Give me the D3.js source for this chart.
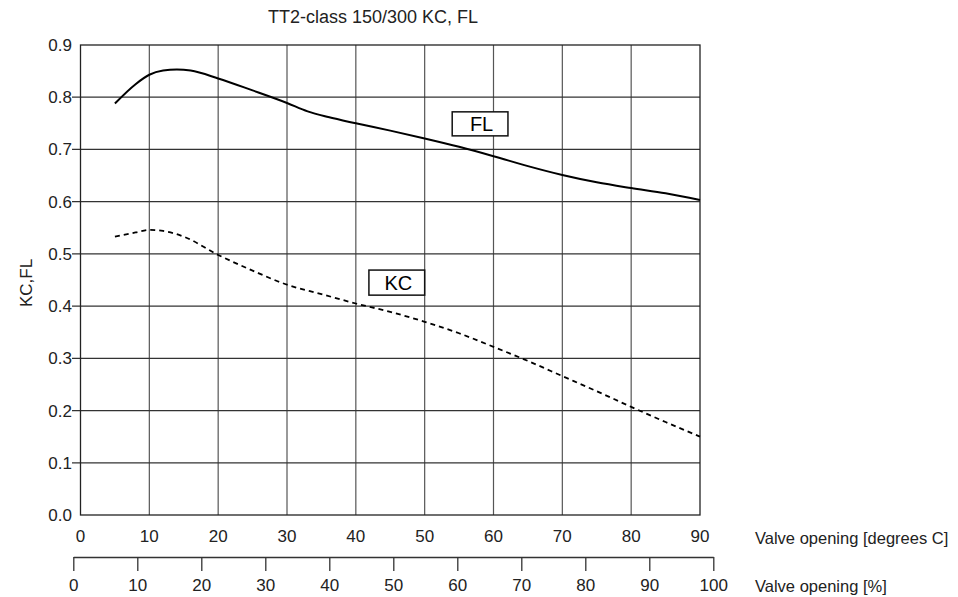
<!DOCTYPE html>
<html><head><meta charset="utf-8">
<script src="https://cdn.jsdelivr.net/npm/d3@7"></script>
<style>body{margin:0;background:#fff}svg{display:block}text{font-family:"Liberation Sans",Arial,sans-serif;fill:#222}</style>
</head><body><svg id="c" width="958" height="597"></svg>
<script>
const title = "TT2-class 150/300 KC, FL";
const yLabel = "KC,FL";
const xLabelDeg = "Valve opening [degrees C]";
const xLabelPct = "Valve opening [%]";
const yTicks = [0,0.1,0.2,0.3,0.4,0.5,0.6,0.7,0.8,0.9];
const degTicks = [0,10,20,30,40,50,60,70,80,90];
const pctTicks = [0,10,20,30,40,50,60,70,80,90,100];
const flDeg = [5,8,10,12,14,16,20,25,30,33,36,40,45,50,55,60,65,70,75,80,85,90];
const flVal = [0.788,0.825,0.843,0.851,0.853,0.851,0.836,0.813,0.789,0.773,0.762,0.750,0.736,0.721,0.705,0.687,0.668,0.651,0.637,0.626,0.616,0.603];
const kcDeg = [5,8,10,12,15,20,25,30,35,40,45,50,55,60,65,70,75,80,85,90];
const kcVal = [0.533,0.541,0.546,0.544,0.533,0.498,0.468,0.441,0.423,0.405,0.389,0.370,0.348,0.322,0.295,0.266,0.237,0.207,0.178,0.150];
const labels = [{text:"FL", x0:54, x1:62.1, y0:0.772, y1:0.726},{text:"KC", x0:41.9, x1:50, y0:0.469, y1:0.421}];

const svg = d3.select("#c");
const x = d3.scaleLinear().domain([0,90]).range([80.5,700]);
const y = d3.scaleLinear().domain([0,0.9]).range([515,45]);
const xp = d3.scaleLinear().domain([0,100]).range([73.3,713.3]);

// grid
svg.append("g").selectAll("line").data(degTicks.slice(1,-1)).join("line")
  .attr("x1",d=>x(d)).attr("x2",d=>x(d)).attr("y1",y(0.9)).attr("y2",y(0))
  .attr("stroke","#555").attr("stroke-width",1.2);
svg.append("g").selectAll("line").data(yTicks.slice(1,-1)).join("line")
  .attr("x1",72).attr("x2",x(90)).attr("y1",d=>y(d)).attr("y2",d=>y(d))
  .attr("stroke","#333").attr("stroke-width",1.2);
svg.append("rect").attr("x",x(0)).attr("y",y(0.9)).attr("width",x(90)-x(0)).attr("height",y(0)-y(0.9))
  .attr("fill","none").attr("stroke","#222").attr("stroke-width",1.3);

// y tick labels
svg.append("g").selectAll("text").data(yTicks).join("text")
  .attr("x",72).attr("y",d=>y(d)).attr("dy","0.35em").attr("text-anchor","end")
  .attr("font-size",17).text(d=>d.toFixed(1));
// deg axis labels
svg.append("g").selectAll("text").data(degTicks).join("text")
  .attr("x",d=>x(d)).attr("y",536).attr("dy","0.35em").attr("text-anchor","middle")
  .attr("font-size",17).text(d=>d);
// pct axis
const ax = svg.append("g").attr("transform","translate(0,557)")
  .call(d3.axisBottom(xp).tickValues(pctTicks).tickSize(14).tickPadding(8).tickSizeOuter(0));
ax.select(".domain").attr("stroke","#333").attr("stroke-width",1.3);
ax.selectAll(".tick line").attr("stroke","#333").attr("stroke-width",1.3);
ax.selectAll(".tick text").attr("font-size",17).attr("font-family","Liberation Sans, Arial, sans-serif").attr("fill","#222");

svg.append("text").attr("x",755).attr("y",538).attr("dy","0.35em").attr("font-size",16.5).text(xLabelDeg);
svg.append("text").attr("x",755).attr("y",586).attr("dy","0.35em").attr("font-size",16.5).text(xLabelPct);
svg.append("text").attr("x",373).attr("y",17).attr("dy","0.35em").attr("text-anchor","middle").attr("font-size",18).text(title);
svg.append("text").attr("transform","translate(26,283) rotate(-90)").attr("dy","0.35em").attr("text-anchor","middle").attr("font-size",17).text(yLabel);

// curves
const line = d3.line().x(d=>x(d[0])).y(d=>y(d[1])).curve(d3.curveMonotoneX);
svg.append("path").attr("d",line(flDeg.map((d,i)=>[d,flVal[i]])))
  .attr("fill","none").attr("stroke","#000").attr("stroke-width",2);
svg.append("path").attr("d",line(kcDeg.map((d,i)=>[d,kcVal[i]])))
  .attr("fill","none").attr("stroke","#000").attr("stroke-width",1.8).attr("stroke-dasharray","5,4");

// labels
const lg = svg.append("g").selectAll("g").data(labels).join("g");
lg.append("rect").attr("x",d=>x(d.x0)).attr("y",d=>y(d.y0)).attr("width",d=>x(d.x1)-x(d.x0)).attr("height",d=>y(d.y1)-y(d.y0))
  .attr("fill","#fff").attr("stroke","#111").attr("stroke-width",1.5);
lg.append("text").attr("x",d=>(x(d.x0)+x(d.x1))/2+1.5).attr("y",d=>(y(d.y0)+y(d.y1))/2).attr("dy","0.36em")
  .attr("text-anchor","middle").attr("font-size",20).style("fill","#000").text(d=>d.text);
</script></body></html>
